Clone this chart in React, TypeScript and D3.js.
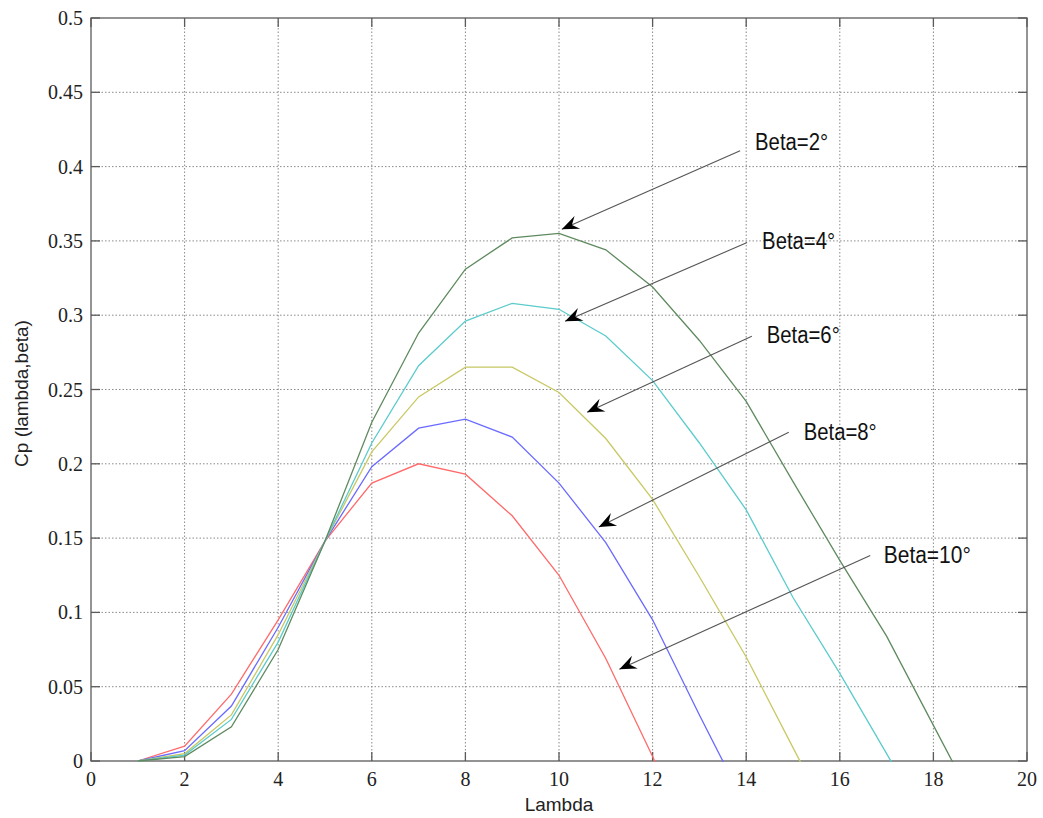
import * as d3 from 'd3';
import { useEffect, useRef } from 'react';

const WIDTH = 1043, HEIGHT = 818;
const margin = { top: 18, right: 16, bottom: 57, left: 91 };

const lambdas = [1, 2, 3, 4, 5, 6, 7, 8, 9, 10, 11, 12, 13, 14, 15, 16, 17, 18, 19, 20];

// values below zero are cut off by the axes, as in the original
const cpBeta10 = [0, 0.010, 0.045, 0.095, 0.148, 0.187, 0.200, 0.193, 0.165, 0.125, 0.069, 0.003, -0.065];
const cpBeta8 = [0, 0.007, 0.037, 0.090, 0.148, 0.198, 0.224, 0.230, 0.218, 0.187, 0.147, 0.095, 0.031, -0.031];
const cpBeta6 = [0, 0.005, 0.031, 0.085, 0.148, 0.208, 0.245, 0.265, 0.265, 0.248, 0.217, 0.176, 0.124, 0.070, 0.009, -0.052];
const cpBeta4 = [0, 0.004, 0.028, 0.080, 0.148, 0.214, 0.266, 0.296, 0.308, 0.304, 0.286, 0.256, 0.214, 0.169, 0.110, 0.059, 0.005, -0.050];
const cpBeta2 = [0, 0.003, 0.023, 0.075, 0.148, 0.228, 0.288, 0.331, 0.352, 0.355, 0.344, 0.319, 0.283, 0.242, 0.188, 0.135, 0.084, 0.024, -0.036];

const seriesColors = ['#ff6a6a', '#6a6aff', '#c8c864', '#5ccbcb', '#5f8a5f'];
const seriesValues = [cpBeta10, cpBeta8, cpBeta6, cpBeta4, cpBeta2];

const xTicks = [0, 2, 4, 6, 8, 10, 12, 14, 16, 18, 20];
const yTicks = [0, 0.05, 0.1, 0.15, 0.2, 0.25, 0.3, 0.35, 0.4, 0.45, 0.5];

// annotations: label, text anchor, arrow tail, arrow head (data units)
const annLabels = ['Beta=2°', 'Beta=4°', 'Beta=6°', 'Beta=8°', 'Beta=10°'];
const annText = [[14.19, 0.411], [14.34, 0.3448], [14.44, 0.2815], [15.23, 0.2158], [16.94, 0.1332]];
const annTail = [[13.87, 0.4106], [14.02, 0.3489], [14.12, 0.2859], [14.91, 0.2212], [16.65, 0.1383]];
const annHead = [[10.06, 0.3578], [10.13, 0.296], [10.60, 0.2347], [10.85, 0.1575], [11.29, 0.0618]];

const App = () => {
    const ref = useRef<SVGSVGElement>(null);

    useEffect(() => {
        const svg = d3.select(ref.current);
        svg.selectAll('*').remove();

        const x = d3.scaleLinear().domain([0, 20]).range([margin.left, WIDTH - margin.right]);
        const y = d3.scaleLinear().domain([0, 0.5]).range([HEIGHT - margin.bottom, margin.top]);
        const [x0, x1] = x.range();
        const [y0, y1] = y.range();

        svg.append('rect').attr('width', WIDTH).attr('height', HEIGHT).attr('fill', '#fff');
        svg.append('clipPath').attr('id', 'plotclip').append('rect')
            .attr('x', x0).attr('y', y1).attr('width', x1 - x0).attr('height', y0 - y1 + 1);

        // grid
        const grid = svg.append('g').attr('stroke', '#8a8a8a').attr('stroke-width', 1).attr('stroke-dasharray', '1.5,2');
        grid.selectAll('.gx').data(xTicks.slice(1, -1)).enter().append('line')
            .attr('x1', d => x(d)).attr('x2', d => x(d)).attr('y1', y0).attr('y2', y1);
        grid.selectAll('.gy').data(yTicks.slice(1, -1)).enter().append('line')
            .attr('x1', x0).attr('x2', x1).attr('y1', d => y(d)).attr('y2', d => y(d));

        // box + ticks
        const axis = svg.append('g').attr('stroke', '#5a5a5a').attr('stroke-width', 1.3).attr('fill', 'none');
        axis.append('rect').attr('x', x0).attr('y', y1).attr('width', x1 - x0).attr('height', y0 - y1);
        const tl = 9;
        xTicks.forEach(t => {
            axis.append('line').attr('x1', x(t)).attr('x2', x(t)).attr('y1', y0).attr('y2', y0 - tl);
            axis.append('line').attr('x1', x(t)).attr('x2', x(t)).attr('y1', y1).attr('y2', y1 + tl);
        });
        yTicks.forEach(t => {
            axis.append('line').attr('x1', x0).attr('x2', x0 + tl).attr('y1', y(t)).attr('y2', y(t));
            axis.append('line').attr('x1', x1).attr('x2', x1 - tl).attr('y1', y(t)).attr('y2', y(t));
        });

        // tick labels
        svg.append('g').selectAll('text').data(xTicks).enter().append('text')
            .attr('x', d => x(d)).attr('y', y0 + 25)
            .attr('text-anchor', 'middle')
            .style('font-family', '"Liberation Serif", "DejaVu Serif", serif')
            .style('font-size', '20px').attr('fill', '#222')
            .text(d => d);
        svg.append('g').selectAll('text').data(yTicks).enter().append('text')
            .attr('x', x0 - 8).attr('y', d => y(d) + 7)
            .attr('text-anchor', 'end')
            .style('font-family', '"Liberation Serif", "DejaVu Serif", serif')
            .style('font-size', '20px').attr('fill', '#222')
            .text(d => d);

        // axis titles
        svg.append('text').attr('x', (x0 + x1) / 2).attr('y', 811)
            .attr('text-anchor', 'middle')
            .style('font-family', '"Liberation Sans", Arial, sans-serif').style('font-size', '19px')
            .attr('fill', '#222').text('Lambda');
        svg.append('text')
            .attr('transform', `translate(28,${(y0 + y1) / 2 + 4}) rotate(-90)`)
            .attr('text-anchor', 'middle')
            .style('font-family', '"Liberation Sans", Arial, sans-serif').style('font-size', '19px')
            .attr('fill', '#222').text('Cp (lambda,beta)');

        // curves, cut at the axes
        const curves = svg.append('g').attr('clip-path', 'url(#plotclip)');
        const line = d3.line<number>().x((_, i) => x(lambdas[i])).y(d => y(d));
        seriesValues.forEach((vals, i) => {
            curves.append('path').datum(vals).attr('d', line)
                .attr('fill', 'none').attr('stroke', seriesColors[i]).attr('stroke-width', 1.3);
        });

        // annotations
        annLabels.forEach((lab, i) => {
            const tx = x(annTail[i][0]), ty = y(annTail[i][1]);
            const hx = x(annHead[i][0]), hy = y(annHead[i][1]);
            svg.append('line').attr('x1', tx).attr('y1', ty).attr('x2', hx).attr('y2', hy)
                .attr('stroke', '#555').attr('stroke-width', 1.1);
            const len = Math.hypot(tx - hx, ty - hy);
            const ux = (tx - hx) / len, uy = (ty - hy) / len;
            const nx = -uy, ny = ux;
            const L = 17, W = 7, notch = 11;
            const pts = [
                [hx, hy],
                [hx + L * ux + W * nx, hy + L * uy + W * ny],
                [hx + notch * ux, hy + notch * uy],
                [hx + L * ux - W * nx, hy + L * uy - W * ny],
            ];
            svg.append('polygon').attr('points', pts.map(p => p.join(',')).join(' ')).attr('fill', '#000');
            svg.append('text').attr('x', x(annText[i][0])).attr('y', y(annText[i][1]))
                .style('font-family', '"Liberation Sans Narrow", "Liberation Sans", Arial, sans-serif')
                .style('font-size', '23px').attr('fill', '#111')
                .attr('textLength', lab.length > 7 ? 87 : 73).attr('lengthAdjust', 'spacingAndGlyphs')
                .text(lab);
        });
    }, []);

    return (
        <svg ref={ref} width={WIDTH} height={HEIGHT} style={{ position: 'absolute', left: 0, top: 0 }} />
    );
};

export default App;
